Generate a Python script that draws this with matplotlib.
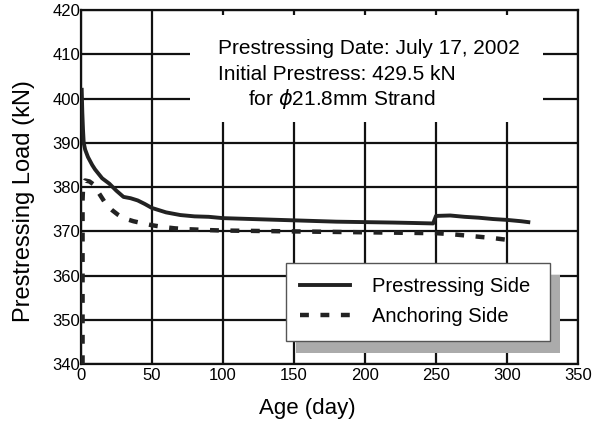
import matplotlib.pyplot as plt
from matplotlib.patches import Rectangle

plt.rcParams['font.family'] = ['Liberation Sans', 'DejaVu Sans']

# Prestressing side (solid)
jour_p = [0.6, 1, 1.5, 2, 3, 5, 8, 10, 15, 20, 25, 30, 35, 40, 45, 50, 55, 60, 70,
          80, 90, 100, 120, 140, 150, 170, 180, 200, 220, 235, 248, 250, 260, 270, 280,
          290, 300, 310, 315]
charge_p = [402, 397, 393, 390, 388.5, 386.8, 385, 384, 382, 380.8, 379.2, 377.8, 377.5,
            377, 376.2, 375.3, 374.8, 374.3, 373.7, 373.4, 373.3, 373.0, 372.8, 372.6, 372.5,
            372.3, 372.2, 372.1, 372.0, 371.9, 371.8, 373.5, 373.6, 373.3, 373.1, 372.8,
            372.6, 372.3, 372.1]

# Anchoring side (dashed)
jour_a = [1.2, 1.2, 1.6, 3, 6, 9, 12, 15, 18, 22, 26, 30, 37, 44, 50, 58, 66, 75,
          90, 100, 125, 150, 175, 200, 225, 250, 260, 270, 280, 290, 300, 305]
charge_a = [340, 377, 380.5, 381.5, 381.3, 380.6, 379, 377.5, 376, 374.8, 373.8, 373,
            372.3, 371.8, 371.4, 371, 370.7, 370.5, 370.3, 370.2, 370.1, 370, 369.9, 369.8,
            369.7, 369.6, 369.4, 369.1, 368.8, 368.5, 368.1, 368.0]

fig = plt.figure(figsize=(5.99, 4.22), dpi=100)
ax = fig.add_axes([0.135, 0.137, 0.83, 0.839])

ax.plot(jour_p, charge_p, color='#222222', lw=2.8, label='Prestressing Side', zorder=3)
ax.plot(jour_a, charge_a, color='#222222', lw=3.2, linestyle=(0, (2, 2.6)),
        label='Anchoring Side', zorder=3)

ax.set_xlim(0, 350)
ax.set_ylim(340, 420)
ax.set_xticks(range(0, 351, 50))
ax.set_yticks(range(340, 421, 10))
ax.grid(True, color='#111111', lw=1.6)
ax.tick_params(length=0, labelsize=12, pad=3)
ax.tick_params(axis='y', pad=0.5)
for s in ax.spines.values():
    s.set_linewidth(1.6)
    s.set_color('#111111')

ax.set_xlabel('Age (day)', fontsize=16)
ax.set_ylabel('Prestressing Load (kN)', fontsize=17)
ax.xaxis.set_label_coords(0.455, -0.096)
ax.yaxis.set_label_coords(-0.093, 0.46)

# zone blanche sous le texte
fig.patches.append(Rectangle((190 / 599, 1 - 122 / 422), 353 / 599, 107 / 422,
                             transform=fig.transFigure, facecolor='white', edgecolor='none',
                             zorder=2.5))

fs_txt = 15
fig.text(218 / 599, 1 - 49 / 422, 'Prestressing Date: July 17, 2002', fontsize=fs_txt, va='center', zorder=4)
fig.text(218 / 599, 1 - 74 / 422, 'Initial Prestress: 429.5 kN', fontsize=fs_txt, va='center', zorder=4)
fig.text(248 / 599, 1 - 99 / 422, 'for $\\phi$21.8mm Strand', fontsize=fs_txt, va='center', zorder=4)

leg = ax.legend(loc='upper left', bbox_to_anchor=(0.412, 0.285, 0.532, 0.0), mode='expand',
                fontsize=14.5, frameon=True, fancybox=False, edgecolor='#555555',
                framealpha=1, handlelength=2.5, handletextpad=1.1, borderpad=0.7,
                labelspacing=0.55, borderaxespad=0)
leg.get_frame().set_linewidth(1.0)
leg.set_zorder(6)

fig.canvas.draw()
bb = leg.get_window_extent()
ax.add_patch(Rectangle((bb.x0 + 10, bb.y0 - 12), bb.width, bb.height, transform=None,
                       facecolor='#ababab', edgecolor='none', zorder=5, clip_on=False))

fig.savefig('out.png', dpi=100)
